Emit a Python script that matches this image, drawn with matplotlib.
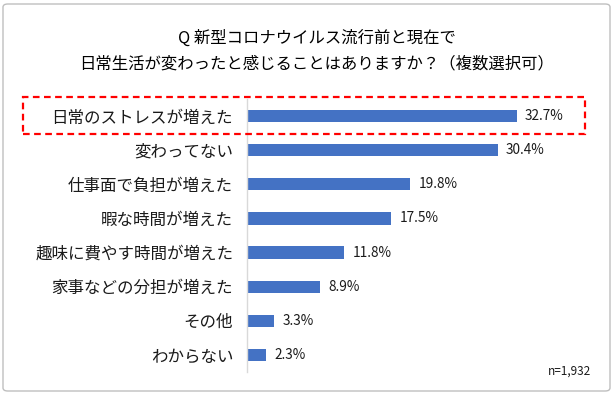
import numpy as np
import matplotlib.pyplot as plt
from matplotlib.patches import FancyBboxPatch, Rectangle

plt.rcParams["font.family"] = ["Noto Sans CJK JP", "DejaVu Sans"]

categories = [
    "日常のストレスが増えた",
    "変わってない",
    "仕事面で負担が増えた",
    "暇な時間が増えた",
    "趣味に費やす時間が増えた",
    "家事などの分担が増えた",
    "その他",
    "わからない",
]
values = [32.7, 30.4, 19.8, 17.5, 11.8, 8.9, 3.3, 2.3]
title = "Q 新型コロナウイルス流行前と現在で\n日常生活が変わったと感じることはありますか？（複数選択可）"
note = "n=1,932"

bar_color = "#4472C4"
text_color = "#1a1a1a"

W, H = 613, 393
fig = plt.figure(figsize=(W / 100, H / 100), dpi=100)

# outer frame
fig.patches.append(
    FancyBboxPatch(
        (3 / W, 2 / H), (W - 6) / W, (H - 6) / H,
        boxstyle="round,pad=0,rounding_size=0.008",
        transform=fig.transFigure, fill=False, edgecolor="#BFBFBF", lw=1.0,
    )
)

ax_left, ax_right, ax_top, ax_bottom = 247, 590, 99, 372
ax = fig.add_axes([
    ax_left / W, 1 - ax_bottom / H,
    (ax_right - ax_left) / W, (ax_bottom - ax_top) / H,
])

y = np.arange(len(categories))
ax.barh(y, values, height=0.36, color=bar_color)
ax.set_ylim(len(categories) - 0.5, -0.5)
ax.set_xlim(0, (ax_right - ax_left) / 8.25)

for yi, v in zip(y, values):
    ax.text(v + 1.0, yi, f"{v:.1f}%", va="center", ha="left",
            fontsize=9.8, color=text_color)

ax.set_yticks(y)
ax.set_yticklabels(categories, fontsize=11.9, color=text_color)
ax.tick_params(axis="y", length=0, pad=10)
ax.set_xticks([])
for side in ["top", "right", "bottom"]:
    ax.spines[side].set_visible(False)
ax.spines["left"].set_color("#D9D9D9")
ax.spines["left"].set_linewidth(1.0)

fig.text(317 / W, 1 - 51 / H, title, ha="center", va="center",
         fontsize=11.8, color="#000000", linespacing=1.62)

fig.text(591 / W, 1 - 371 / H, note, ha="right", va="center",
         fontsize=8.5, color=text_color)

# highlight box
fig.patches.append(
    Rectangle(
        (23 / W, 1 - 134 / H), (585 - 23) / W, (134 - 97) / H,
        transform=fig.transFigure, fill=False, edgecolor="#FF0000",
        lw=1.6, linestyle=(0, (3, 2)),
    )
)

fig.savefig("out.png", dpi=100)
